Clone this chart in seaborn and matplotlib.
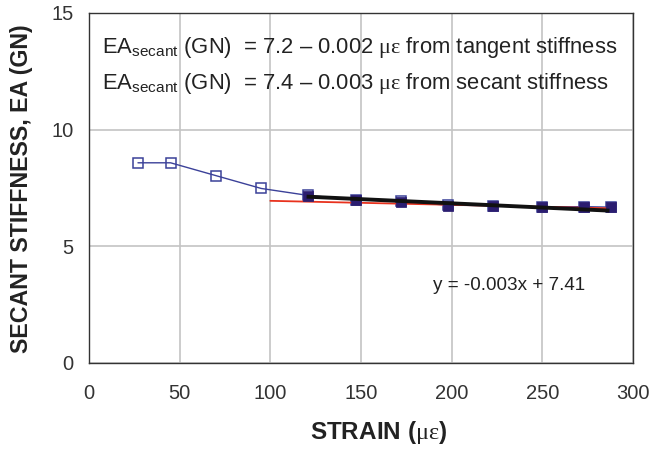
import matplotlib
matplotlib.use("Agg")
import matplotlib.pyplot as plt
import seaborn as sns
import pandas as pd
from matplotlib.ticker import MultipleLocator

# data
strain_all = [27, 45, 70, 95, 121, 147, 172, 198, 223, 250, 273, 288]
secant_all = [8.58, 8.58, 8.03, 7.48, 7.18, 7.0, 6.93, 6.76, 6.75, 6.69, 6.70, 6.68]

strain_tan = [121, 147, 172, 198, 223, 250, 273, 288]
secant_tan = [7.16, 6.98, 6.92, 6.74, 6.74, 6.69, 6.70, 6.67]

black_x = [120, 287]
black_y = [7.13, 6.53]

red_x = [100, 287]
red_y = [6.95, 6.63]

eq_tangent = r"EA$_{\mathsf{secant}}$ (GN)  = 7.2 – 0.002 $\mathrm{με}$ from tangent stiffness"
eq_secant = r"EA$_{\mathsf{secant}}$ (GN)  = 7.4 – 0.003 $\mathrm{με}$ from secant stiffness"
trend_label = "y = -0.003x + 7.41"

sns.set_style("white")
plt.rcParams['font.family'] = ['Liberation Sans', 'DejaVu Sans']
plt.rcParams['mathtext.fontset'] = 'custom'
plt.rcParams['mathtext.rm'] = 'Liberation Serif'
plt.rcParams['mathtext.sf'] = 'Liberation Sans'
plt.rcParams['mathtext.it'] = 'Liberation Sans:italic'
plt.rcParams['mathtext.bf'] = 'Liberation Sans:bold'

fig = plt.figure(figsize=(6.49, 4.5), dpi=100)
ax = fig.add_axes([89/649, 1-363/450, (633-89)/649, (363-13)/450])

df_all = pd.DataFrame({"strain": strain_all, "EA": secant_all})
df_tan = pd.DataFrame({"strain": strain_tan, "EA": secant_tan})

sns.lineplot(data=df_all, x="strain", y="EA", ax=ax, color="#3b4199", lw=1.0,
             marker="s", markersize=7, markerfacecolor="none",
             markeredgecolor="#3b4199", markeredgewidth=1.1, zorder=3)
ax.plot(red_x, red_y, color="#e8321e", lw=1.3, zorder=4)
sns.scatterplot(data=df_tan, x="strain", y="EA", ax=ax, marker="s", s=45,
                color="#2b1d70", edgecolor="#2b1d70", zorder=5)
ax.plot(black_x, black_y, color="#111111", lw=2.8, zorder=6, solid_capstyle="butt")

ax.set_xlim(0, 300)
ax.set_ylim(0, 15)
ax.xaxis.set_major_locator(MultipleLocator(50))
ax.yaxis.set_major_locator(MultipleLocator(5))
ax.yaxis.set_minor_locator(MultipleLocator(2.5))
ax.grid(True, which="major", color="#c4c4c4", lw=1.2)
ax.set_axisbelow(True)
for s in ax.spines.values():
    s.set_color("#333333")
    s.set_linewidth(1.0)
ax.tick_params(axis="both", which="both", direction="inout", colors="#333333",
               labelcolor="#333333", labelsize=14.5, length=8, width=1.0)
ax.tick_params(axis="x", pad=11)
ax.tick_params(axis="y", pad=7)
ax.set_xlabel("")
ax.set_ylabel("")

fig.text(379/649, 1-432/450, r"STRAIN ($\mathrm{με}$)", fontsize=17.5,
         fontweight="bold", color="#222222", ha="center", va="center")
fig.text(22/649, 1-189/450, "SECANT STIFFNESS, EA (GN)", fontsize=16.7,
         fontweight="bold", color="#222222", ha="center", va="center",
         rotation=90)

fig.text(102/649, 1-48/450, eq_tangent, fontsize=15.8, color="#222222",
         va="center", ha="left")
fig.text(102/649, 1-83/450, eq_secant, fontsize=15.8, color="#222222",
         va="center", ha="left")
fig.text(433/649, 1-286/450, trend_label, fontsize=13.6, color="#222222",
         va="center", ha="left")

fig.savefig("out.png", dpi=100)
